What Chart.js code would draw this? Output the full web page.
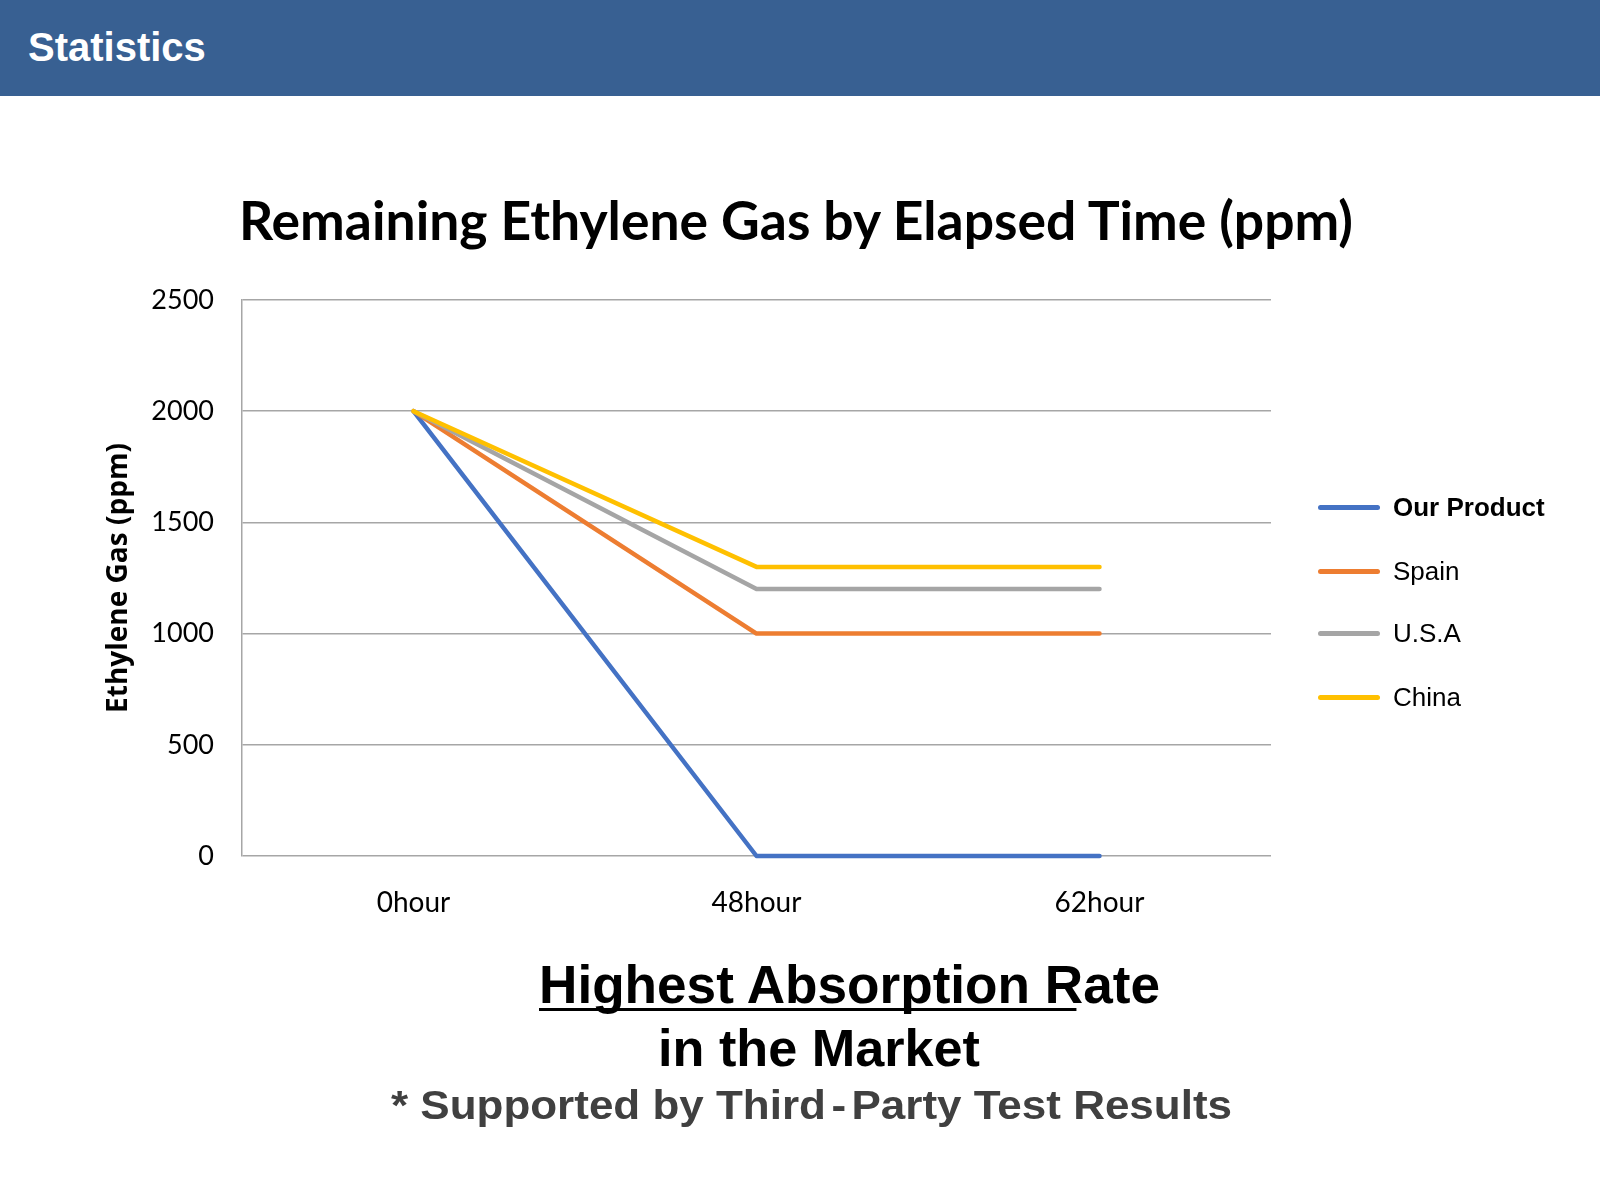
<!DOCTYPE html>
<html><head><meta charset="utf-8">
<script src="https://cdn.jsdelivr.net/npm/chart.js@4.4.1/dist/chart.umd.min.js"></script>
<style>
html,body{margin:0;padding:0;background:#fff;width:1600px;height:1200px;overflow:hidden;position:relative;}
#hdr{position:absolute;left:0;top:0;width:1600px;height:96px;background:#386092;}
#hdr span{position:absolute;left:28px;top:27px;font:bold 40px/1 "Liberation Sans",Arial,sans-serif;color:#fff;}
#cv{position:absolute;left:0;top:0;}
.t{position:absolute;white-space:nowrap;display:inline-block;transform-origin:0 0;}
#title{left:239px;top:193px;font:bold 53px/1 Lato,sans-serif;color:#000;}
#l1{left:539px;top:958px;font:bold 53px/1 "Liberation Sans",Arial,sans-serif;color:#000;}
#l1::after{content:'';position:absolute;left:0;width:86.5%;top:50px;height:3px;background:#000;}
#l2{left:658px;top:1022px;font:bold 52px/1 "Liberation Sans",Arial,sans-serif;color:#000;}
#l3{left:391px;top:1085px;font:bold 40px/1 "Liberation Sans",Arial,sans-serif;color:#404040;}
#l3 .hy{margin:0 5px;}
#legend{position:absolute;left:1318px;top:0;}
.li{position:absolute;left:0;height:26px;white-space:nowrap;font:26px/26px "Liberation Sans",Arial,sans-serif;color:#000;}
.sw{position:absolute;left:0;top:11px;width:62px;height:5px;border-radius:3px;}
.lt{position:absolute;left:75px;top:0;}
</style></head>
<body>
<div id="hdr"><span>Statistics</span></div>
<canvas id="cv" width="1600" height="1200"></canvas>
<div class="t" id="title">Remaining Ethylene Gas by Elapsed Time (ppm)</div>
<div id="legend"></div>
<div class="t" id="l1">Highest Absorption Rate</div>
<div class="t" id="l2">in the Market</div>
<div class="t" id="l3">* Supported by Third<span class="hy">-</span>Party Test Results</div>
<script>
const categories = ['0hour', '48hour', '62hour'];
const seriesNames = ['Our Product', 'Spain', 'U.S.A', 'China'];
const ourProduct = [2000, 0, 0];
const spain = [2000, 1000, 1000];
const usa = [2000, 1200, 1200];
const china = [2000, 1300, 1300];
const yMin = 0, yMax = 2500, yStep = 500;
const yTitle = 'Ethylene Gas (ppm)';

const colors = ['#4472C4', '#ED7D31', '#A5A5A5', '#FFC000'];
const seriesValues = [ourProduct, spain, usa, china];
const boldLegend = [true, false, false, false];
const legendY = [507, 571, 633, 697];

const datasets = seriesNames.map((n, i) => ({
  label: n,
  data: seriesValues[i],
  borderColor: colors[i],
  backgroundColor: colors[i],
  borderWidth: 4.5,
  pointRadius: 0,
  pointHoverRadius: 0,
  tension: 0,
  fill: false,
  clip: false,
  borderCapStyle: 'round',
  borderJoinStyle: 'round',
  order: seriesNames.length - 1 - i
}));

new Chart(document.getElementById('cv'), {
  type: 'line',
  data: { labels: categories, datasets },
  options: {
    responsive: false,
    animation: false,
    devicePixelRatio: 1,
    layout: { padding: { top: 300, left: 100, right: 329, bottom: 264 } },
    plugins: { legend: { display: false }, title: { display: false }, tooltip: { enabled: false } },
    scales: {
      x: {
        offset: true,
        afterFit(s) { s.height = 80; },
        grid: { display: false, drawTicks: false },
        border: { display: false },
        ticks: { padding: 30, color: '#000', font: { family: 'Lato', size: 28 } }
      },
      y: {
        min: yMin, max: yMax,
        afterFit(s) { s.width = 142; },
        grid: { color: '#a6a6a6', lineWidth: 1.5, drawTicks: false },
        border: { display: true, color: '#a6a6a6', width: 1.5 },
        ticks: { stepSize: yStep, padding: 28, color: '#000', font: { family: 'Lato', size: 27 },
                 callback: v => String(v) },
        title: { display: true, text: yTitle, color: '#000', font: { family: 'Open Sans', weight: 'bold', size: 28 }, padding: { top: 2, bottom: 0 } }
      }
    }
  }
});

const lg = document.getElementById('legend');
seriesNames.forEach((n, i) => {
  const d = document.createElement('div');
  d.className = 'li';
  d.style.top = (legendY[i] - 13) + 'px';
  const sw = document.createElement('span');
  sw.className = 'sw';
  sw.style.background = colors[i];
  const t = document.createElement('span');
  t.className = 'lt';
  t.textContent = n;
  if (boldLegend[i]) t.style.fontWeight = 'bold';
  d.appendChild(sw); d.appendChild(t);
  lg.appendChild(d);
});

function fit(id, w) {
  const el = document.getElementById(id);
  const cw = el.getBoundingClientRect().width;
  el.style.transform = 'scaleX(' + (w / cw) + ')';
}
fit('title', 1114);
fit('l1', 621);
fit('l2', 322);
fit('l3', 841);
</script>
</body></html>
